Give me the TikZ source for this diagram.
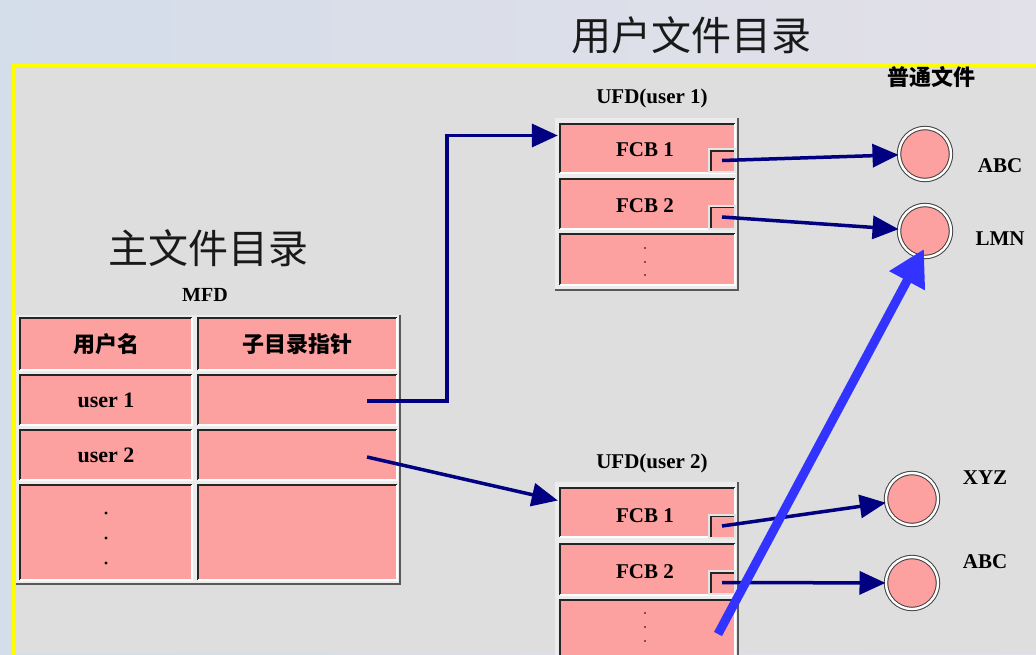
\documentclass[tikz,border=0pt]{standalone}
\usepackage{fontspec}
\setmainfont{Liberation Serif}
\newfontfamily\cjk{Noto Sans CJK SC}
\usetikzlibrary{arrows.meta,calc}
\definecolor{pinkc}{RGB}{252,160,160}
\definecolor{navyc}{RGB}{0,0,128}
\definecolor{bluec}{RGB}{51,51,255}
\definecolor{panelc}{RGB}{222,222,222}
\definecolor{outerL}{RGB}{212,221,234}
\definecolor{outerR}{RGB}{226,224,232}
\definecolor{framec}{RGB}{236,236,236}
\definecolor{yellowc}{RGB}{255,255,0}
\tikzset{
  cell/.style={fill=pinkc, inner sep=0pt, text=black, font=\bfseries\fontsize{22}{24}\selectfont},
  hi/.style={draw=white, line width=2pt},
  sh/.style={draw=black!85, line width=2pt},
  frameedge/.style={draw=black!65, line width=2pt},
  notch/.style={fill=pinkc, draw=white!80!gray, line width=2pt, inner sep=0pt, minimum width=26pt, minimum height=23pt},
  file/.style={circle, minimum size=52pt, inner sep=0pt, fill=pinkc, draw=black!75, line width=1pt,
    double=white, double distance=2.4pt},
  link/.style={draw=navyc, line width=3.5pt, -{Triangle[length=26pt,width=23pt]}},
  big/.style={draw=bluec, line width=9pt, -{Triangle[length=36pt,width=38pt]}},
  label/.style={inner sep=0pt, text=black, font=\bfseries\fontsize{21}{23}\selectfont},
  title/.style={inner sep=0pt, text=black!90, font=\cjk\fontsize{40}{42}\selectfont},
  cjkb/.style={font=\cjk\bfseries\fontsize{22}{24}\selectfont},
}
\newcommand\bevelcell[1]{%
  \draw[sh] (#1.south west) -- (#1.north west) -- (#1.north east);
  \draw[hi] (#1.north east) -- (#1.south east) -- (#1.south west);}
\begin{document}
\begin{tikzpicture}[x=1pt,y=-1pt]
\clip (0,0) rectangle (1036,654);
% background
\shade[left color=outerL, right color=outerR] (0,0) rectangle (1036,654);
\fill[panelc] (13,65) rectangle (1036,654);
\draw[yellowc, line width=3pt] (13,660) -- (13,65) -- (1040,65);

% titles
\node[title] (t1) at (691,35) {用户文件目录};
\node[title] (t2) at (208,248) {主文件目录};
\node[label, font=\bfseries\fontsize{20}{22}\selectfont] (mfd) at (205,295) {MFD};
\node[label] (ufd1) at (652,98) {UFD(user 1)};
\node[label] (ufd2) at (652,463) {UFD(user 2)};
\node[label, cjkb] (files) at (931,77) {普通文件};

% MFD table
\fill[framec] (16,315) rectangle (400,584);
\draw[frameedge] (400,315) -- (400,584) -- (16,584);
\node[cell, cjkb, minimum width=172pt, minimum height=52pt] (h1) at (106,344) {用户名};
\node[cell, cjkb, minimum width=199pt, minimum height=52pt] (h2) at (297.5,344) {子目录指针};
\node[cell, minimum width=172pt, minimum height=50pt] (r1a) at (106,400) {user 1};
\node[cell, minimum width=199pt, minimum height=50pt] (r1b) at (297.5,400) {};
\node[cell, minimum width=172pt, minimum height=50pt] (r2a) at (106,455) {user 2};
\node[cell, minimum width=199pt, minimum height=50pt] (r2b) at (297.5,455) {};
\node[cell, minimum width=172pt, minimum height=95pt] (r3a) at (106,532.5) {};
\node[cell, minimum width=199pt, minimum height=95pt] (r3b) at (297.5,532.5) {};
\foreach \n in {h1,h2,r1a,r1b,r2a,r2b,r3a,r3b} {\bevelcell{\n}}
\foreach \y in {513,538,563} {\fill[black] (106,\y) circle (1.6pt);}

% UFD 1
\fill[framec] (555,118) rectangle (738,290);
\draw[frameedge] (738,118) -- (738,290) -- (555,290);
\node[cell, minimum width=175pt, minimum height=49pt] (u1a) at (647.5,148.5) {};
\node[cell, minimum width=175pt, minimum height=50pt] (u1b) at (647.5,204) {};
\node[cell, minimum width=175pt, minimum height=51pt] (u1c) at (647.5,259.5) {};
\foreach \n in {u1a,u1b,u1c} {\bevelcell{\n}}
\node[label] at (645,150) {FCB 1};
\node[label] at (645,206) {FCB 2};
\foreach \y in {248,262,275} {\fill[black] (645,\y) circle (0.8pt);}
\node[notch] (n11) at (722,160.5) {};
\node[notch] (n12) at (722,217) {};

% UFD 2
\fill[framec] (555,482) rectangle (738,660);
\draw[frameedge] (738,482) -- (738,660);
\node[cell, minimum width=175pt, minimum height=49pt] (u2a) at (647.5,512.5) {};
\node[cell, minimum width=175pt, minimum height=50pt] (u2b) at (647.5,569.5) {};
\node[cell, minimum width=175pt, minimum height=60pt] (u2c) at (647.5,630) {};
\foreach \n in {u2a,u2b,u2c} {\bevelcell{\n}}
\node[label] at (645,516) {FCB 1};
\node[label] at (645,572) {FCB 2};
\foreach \y in {613,627,641} {\fill[black] (645,\y) circle (0.8pt);}
\node[notch] (n21) at (722,526) {};
\node[notch] (n22) at (722,582.5) {};

\foreach \n in {n11,n12,n21,n22} {
  \draw[black!85, line width=1.5pt] ($(\n.south west)+(3,-2)$) -- ($(\n.north west)+(3,3)$) -- ($(\n.north east)+(-2,3)$);
}

% files
\node[file] (abc1) at (925,154) {};
\node[file] (lmn) at (925,231) {};
\node[file] (xyz) at (912,499) {};
\node[file] (abc2) at (912,583) {};
\node[label] (labc1) at (1000,166) {ABC};
\node[label] (llmn) at (1000,239) {LMN};
\node[label] (lxyz) at (985,478) {XYZ};
\node[label] (labc2) at (985,562) {ABC};

% connectors
\coordinate (p1) at (367,401);
\coordinate (p2) at (367,457);
\draw[link] (p1) -- (447,401) |- ($(u1a.west)+(-2,-13)$);
\draw[link] (p2) -- ($(u2a.west)+(-2,-12)$);
\draw[link] (n11.center) -- (abc1);
\draw[link] (n12.center) -- (lmn);
\draw[link] (n21.center) -- (xyz);
\draw[link] (n22.center) -- (abc2);

\coordinate (bs) at (718,634);
\draw[big] (bs) -- ($(lmn.center)+(-1,18)$);
\end{tikzpicture}
\end{document}
